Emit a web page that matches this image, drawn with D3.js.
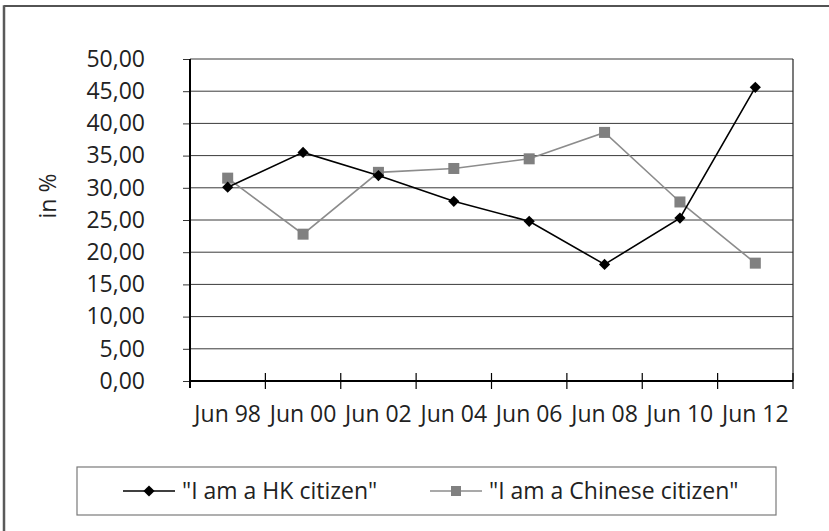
<!DOCTYPE html>
<html>
<head>
  <meta charset="utf-8">
  <style>
    body { margin: 0; background: #fff; }
    svg { display: block; font-family: "Open Sans", sans-serif; }
  </style>
  <script src="https://d3js.org/d3.v7.min.js"></script>
</head>
<body>
  <div id="chart"></div>
  <script>
    const categories = ["Jun 98", "Jun 00", "Jun 02", "Jun 04", "Jun 06", "Jun 08", "Jun 10", "Jun 12"];
    const hkCitizen = [30.1, 35.5, 31.9, 27.9, 24.8, 18.1, 25.3, 45.6];
    const chineseCitizen = [31.5, 22.8, 32.4, 33.0, 34.5, 38.6, 27.8, 18.3];
    const yTicks = [0, 5, 10, 15, 20, 25, 30, 35, 40, 45, 50];
    const seriesNames = ['"I am a HK citizen"', '"I am a Chinese citizen"'];

    const width = 829, height = 531;
    const plot = { left: 190, right: 793, top: 59, bottom: 381 };

    const svg = d3.select('#chart')
      .append('svg')
        .attr('width', width)
        .attr('height', height);

    // outer chart frame: only the top and left edges fall inside the picture
    svg.append('line')
      .attr('x1', 4).attr('x2', width)
      .attr('y1', 6).attr('y2', 6)
      .attr('stroke', '#1a1a1a').attr('stroke-width', 1.5);
    svg.append('line')
      .attr('x1', 4).attr('x2', 4)
      .attr('y1', 5.25).attr('y2', height)
      .attr('stroke', '#5a5a5a').attr('stroke-width', 2.5);

    const x = d3.scaleBand()
      .domain(categories)
      .range([plot.left, plot.right])
      .padding(0);

    const y = d3.scaleLinear()
      .domain([0, 50])
      .range([plot.bottom, plot.top]);

    const fmt = d => d3.format('.2f')(d).replace('.', ',');

    // gridlines
    svg.append('g')
      .selectAll('line')
      .data(yTicks.filter(d => d > 0))
      .join('line')
        .attr('x1', plot.left).attr('x2', plot.right)
        .attr('y1', d => y(d)).attr('y2', d => y(d))
        .attr('stroke', '#3a3a3a')
        .attr('stroke-width', 1);

    // right border of plot area
    svg.append('line')
      .attr('x1', plot.right).attr('x2', plot.right)
      .attr('y1', plot.top).attr('y2', plot.bottom)
      .attr('stroke', '#222').attr('stroke-width', 1.2);

    // y axis
    const yAxis = svg.append('g')
      .attr('transform', `translate(${plot.left},0)`)
      .call(d3.axisLeft(y).tickValues(yTicks).tickFormat(fmt).tickSize(7).tickPadding(38));
    yAxis.select('.domain').remove();
    yAxis.selectAll('.tick line').attr('stroke', '#333').attr('stroke-width', 1);
    yAxis.selectAll('.tick text')
      .attr('font-size', 23)
      .attr('fill', '#222')
      .attr('font-family', '"Open Sans", sans-serif');
    svg.append('line')
      .attr('x1', plot.left).attr('x2', plot.left)
      .attr('y1', plot.top).attr('y2', plot.bottom + 7)
      .attr('stroke', '#000').attr('stroke-width', 2);

    // x axis
    const xAxis = svg.append('g')
      .attr('transform', `translate(0,${plot.bottom})`)
      .call(d3.axisBottom(x).tickSize(0).tickPadding(25));
    xAxis.select('.domain').remove();
    xAxis.selectAll('.tick text')
      .attr('font-size', 23)
      .attr('fill', '#222')
      .attr('font-family', '"Open Sans", sans-serif');

    const boundaries = categories.map(c => x(c)).concat([x.range()[1]]);
    svg.append('g')
      .selectAll('line')
      .data(boundaries.slice(1))
      .join('line')
        .attr('x1', d => d).attr('x2', d => d)
        .attr('y1', plot.bottom - 8).attr('y2', plot.bottom + 8)
        .attr('stroke', '#000').attr('stroke-width', 1.2);
    svg.append('line')
      .attr('x1', plot.left).attr('x2', plot.right)
      .attr('y1', plot.bottom).attr('y2', plot.bottom)
      .attr('stroke', '#000').attr('stroke-width', 2.2);

    // y axis title
    svg.append('text')
      .attr('transform', 'translate(56,196) rotate(-90)')
      .attr('text-anchor', 'middle')
      .attr('font-size', 23)
      .attr('fill', '#222')
      .text('in %');

    const cx = d => x(d) + x.bandwidth() / 2;
    const line = d3.line()
      .x((d, i) => cx(categories[i]))
      .y(d => y(d));

    const diamond = d3.symbol().type(d3.symbolDiamond2).size(80);

    // Chinese citizen series
    svg.append('path')
      .datum(chineseCitizen)
      .attr('d', line)
      .attr('fill', 'none')
      .attr('stroke', '#8c8c8c')
      .attr('stroke-width', 1.6);
    svg.append('g')
      .selectAll('rect')
      .data(chineseCitizen)
      .join('rect')
        .attr('x', (d, i) => cx(categories[i]) - 5.5)
        .attr('y', d => y(d) - 5.5)
        .attr('width', 11).attr('height', 11)
        .attr('fill', '#808080');

    // HK citizen series
    svg.append('path')
      .datum(hkCitizen)
      .attr('d', line)
      .attr('fill', 'none')
      .attr('stroke', '#000')
      .attr('stroke-width', 1.6);
    svg.append('g')
      .selectAll('path')
      .data(hkCitizen)
      .join('path')
        .attr('transform', (d, i) => `translate(${cx(categories[i])},${y(d)})`)
        .attr('d', diamond)
        .attr('fill', '#000');

    // legend
    const legend = svg.append('g');
    legend.append('rect')
      .attr('x', 77).attr('y', 467)
      .attr('width', 699).attr('height', 48)
      .attr('fill', '#fff')
      .attr('stroke', '#7a7a7a')
      .attr('stroke-width', 1.2);

    const items = [
      { name: seriesNames[0], x: 123, color: '#000', shape: 'diamond' },
      { name: seriesNames[1], x: 430, color: '#8c8c8c', shape: 'square' }
    ];
    const ly = 491;
    items.forEach(it => {
      legend.append('line')
        .attr('x1', it.x).attr('x2', it.x + 52)
        .attr('y1', ly).attr('y2', ly)
        .attr('stroke', it.color).attr('stroke-width', 1.6);
      if (it.shape === 'diamond') {
        legend.append('path')
          .attr('transform', `translate(${it.x + 26},${ly})`)
          .attr('d', diamond)
          .attr('fill', '#000');
      } else {
        legend.append('rect')
          .attr('x', it.x + 21).attr('y', ly - 5)
          .attr('width', 10).attr('height', 10)
          .attr('fill', '#808080');
      }
      legend.append('text')
        .attr('x', it.x + 59).attr('y', ly)
        .attr('dy', '0.35em')
        .attr('font-size', 23)
        .attr('fill', '#222')
        .text(it.name);
    });
  </script>
</body>
</html>
